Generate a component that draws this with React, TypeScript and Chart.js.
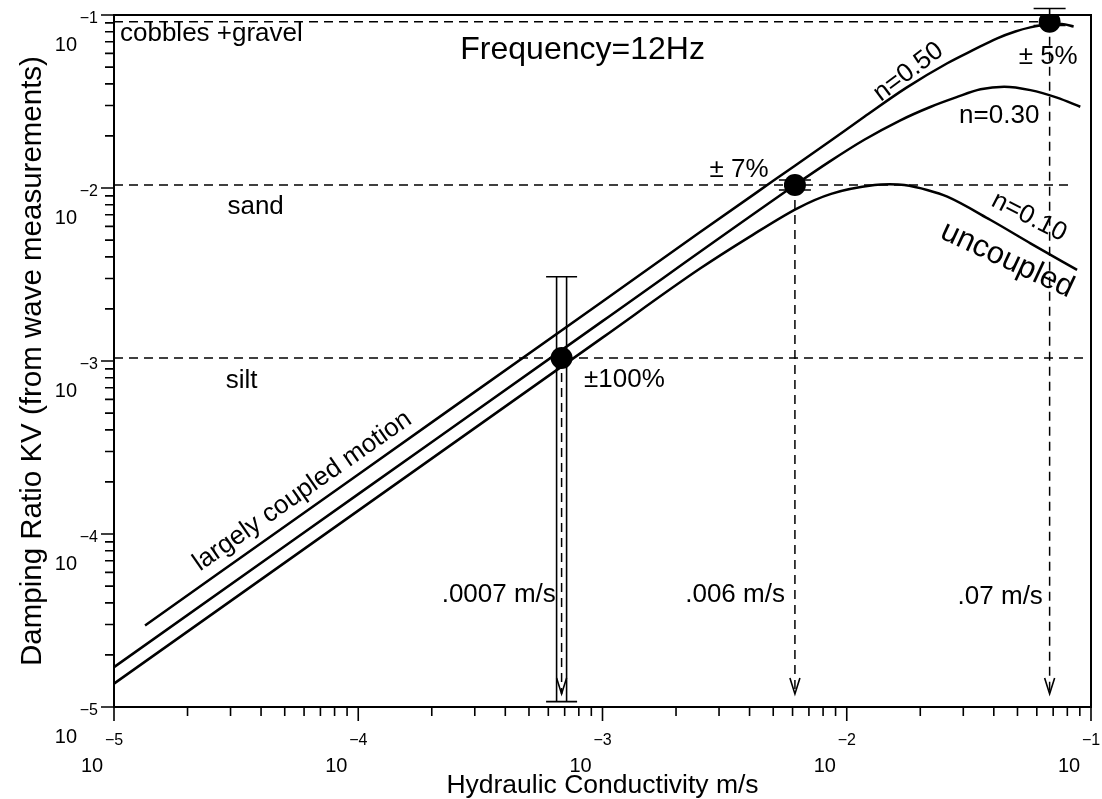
import React, { useEffect, useRef } from "react";
import { Chart, registerables } from "chart.js";

Chart.register(...registerables);

// ---- axis ranges (hydraulic conductivity K in m/s, damping ratio D) ----
const X_MIN = 1e-5;
const X_MAX = 1e-1;
const Y_MIN = 1e-5;
const Y_MAX = 1e-1;
const DECADE_EXPONENTS = [-5, -4, -3, -2, -1];
const DECADE_LABELS = ["\u22125", "\u22124", "\u22123", "\u22122", "\u22121"];
const MINOR_MULTIPLES = [2, 3, 4, 5, 6, 7, 8, 9];

// ---- model curves ----
const K_N050 = [1.34e-5, 1e-4, 1e-3, 2.47e-3, 5.0e-3, 8.5e-3, 0.0118, 0.0175, 0.0258, 0.033, 0.0413, 0.049, 0.0564, 0.0661, 0.076, 0.0849];
const D_N050 = [2.96e-5, 2.21e-4, 2.21e-3, 5.47e-3, 0.011, 0.01858, 0.0258, 0.0379, 0.0526, 0.0628, 0.0733, 0.0803, 0.0848, 0.0882, 0.0887, 0.0858];

const K_N030 = [1e-5, 1e-4, 1e-3, 6.14e-3, 8.5e-3, 0.0118, 0.0165, 0.0221, 0.028, 0.0353, 0.0441, 0.0565, 0.0726, 0.0904];
const D_N030 = [1.7e-5, 1.7e-4, 1.7e-3, 0.0104, 0.0142, 0.019, 0.02455, 0.0295, 0.0334, 0.0372, 0.0385, 0.0368, 0.0333, 0.0295];

const K_N010 = [1e-5, 1e-4, 1e-3, 2.5e-3, 3.94e-3, 6.31e-3, 8.63e-3, 0.013, 0.015, 0.0172, 0.0215, 0.0258, 0.0388, 0.0565, 0.0877];
const D_N010 = [1.365e-5, 1.365e-4, 1.365e-3, 3.41e-3, 5.15e-3, 7.66e-3, 9.25e-3, 0.0104, 0.0105, 0.0104, 9.71e-3, 8.91e-3, 6.53e-3, 4.79e-3, 3.36e-3];

// ---- measurements (dots) with error bars ----
const MEAS_K = [6.8e-4, 6.135e-3, 0.0677];
const MEAS_D = [1.04e-3, 1.04e-2, 0.0915];
const MEAS_HI = [3.07e-3, 0.01112, 0.109];
const MEAS_LO = [1.074e-5, 0.00974, 0.087];
const ARROW_TIP_D = 1.19e-5;

// ---- soil class levels (dashed horizontal lines) ----
const LEVEL_D = [0.0915, 0.0104, 0.00104];
const LEVEL_END_K = [0.0677, 0.0821, 0.0963];

// ---- annotations ----
const NOTE_TEXT = [
  "cobbles +gravel",
  "Frequency=12Hz",
  "sand",
  "silt",
  "\u00b1100%",
  "\u00b1 7%",
  "\u00b1 5%",
  "n=0.50",
  "n=0.30",
  "n=0.10",
  "uncoupled",
  "largely coupled motion",
  ".0007 m/s",
  ".006 m/s",
  ".07 m/s",
];
const NOTE_K = [1.058e-5, 8.29e-4, 3.8e-5, 3.33e-5, 1.23e-3, 3.62e-3, 0.0668, 0.0179, 0.0421, 0.0558, 0.0454, 5.91e-5, 3.76e-4, 3.49e-3, 0.0425];
const NOTE_D = [0.0777, 0.0628, 7.77e-3, 7.66e-4, 7.77e-4, 0.0127, 0.0572, 0.0468, 0.0261, 6.8e-3, 3.84e-3, 1.77e-4, 4.44e-5, 4.44e-5, 4.33e-5];
const NOTE_SIZE = [26, 32, 26, 26, 26, 26, 26, 26, 26, 26, 31, 26, 26, 26, 26];
const NOTE_ANGLE = [0, 0, 0, 0, 0, 0, 0, -37, 0, 27, 25, -35, 0, 0, 0];
const NOTE_ALIGN = ["left", "center", "center", "center", "center", "center", "center", "center", "center", "center", "center", "center", "center", "center", "center"];

const X_TITLE = "Hydraulic Conductivity m/s";
const Y_TITLE = "Damping Ratio KV (from wave measurements)";

const FONT = '"Liberation Sans", Arial, Helvetica, sans-serif';

function pts(k: number[], d: number[]) {
  return k.map((x, i) => ({ x, y: d[i] }));
}

const decorPlugin = {
  id: "decor",
  beforeDatasetsDraw(chart: any) {
    const ctx = chart.ctx as CanvasRenderingContext2D;
    const xs = chart.scales.x;
    const ys = chart.scales.y;
    ctx.save();
    ctx.strokeStyle = "#000";
    ctx.lineWidth = 1.6;
    MEAS_K.forEach((k, i) => {
      const px = xs.getPixelForValue(k);
      const top = ys.getPixelForValue(MEAS_HI[i]);
      const bot = ys.getPixelForValue(MEAS_LO[i]);
      const capHalf = i === 0 ? 15.5 : 16;
      ctx.beginPath();
      ctx.moveTo(px - capHalf, top);
      ctx.lineTo(px + capHalf, top);
      ctx.moveTo(px - capHalf, bot);
      ctx.lineTo(px + capHalf, bot);
      if (i === 0) {
        ctx.moveTo(px - 5, top);
        ctx.lineTo(px - 5, bot);
        ctx.moveTo(px + 5, top);
        ctx.lineTo(px + 5, bot);
      } else {
        ctx.moveTo(px, top);
        ctx.lineTo(px, bot);
      }
      ctx.stroke();
      // arrow head at the end of the dashed drop line
      const tip = ys.getPixelForValue(ARROW_TIP_D);
      ctx.beginPath();
      ctx.moveTo(px - 5, tip - 16);
      ctx.lineTo(px, tip);
      ctx.lineTo(px + 5, tip - 16);
      ctx.stroke();
    });
    ctx.restore();
  },
  afterDraw(chart: any) {
    const ctx = chart.ctx as CanvasRenderingContext2D;
    const xs = chart.scales.x;
    const ys = chart.scales.y;
    const a = chart.chartArea;
    ctx.save();
    ctx.strokeStyle = "#000";
    ctx.fillStyle = "#000";
    // frame
    ctx.lineWidth = 2;
    ctx.strokeRect(a.left, a.top, a.right - a.left, a.bottom - a.top);
    // ticks
    ctx.lineWidth = 1.6;
    ctx.beginPath();
    DECADE_EXPONENTS.forEach((e) => {
      const base = Math.pow(10, e);
      const px = xs.getPixelForValue(base);
      const py = ys.getPixelForValue(base);
      ctx.moveTo(px, a.bottom);
      ctx.lineTo(px, a.bottom + 14);
      ctx.moveTo(a.left, py);
      ctx.lineTo(a.left - 13, py);
      if (base < X_MAX) {
        MINOR_MULTIPLES.forEach((m) => {
          const v = m * base;
          const mx = xs.getPixelForValue(v);
          const my = ys.getPixelForValue(v);
          ctx.moveTo(mx, a.bottom);
          ctx.lineTo(mx, a.bottom + 9);
          ctx.moveTo(a.left, my);
          ctx.lineTo(a.left - 9, my);
        });
      }
    });
    ctx.stroke();
    // tick labels
    ctx.textBaseline = "alphabetic";
    DECADE_EXPONENTS.forEach((e, i) => {
      const base = Math.pow(10, e);
      const px = xs.getPixelForValue(base);
      const py = ys.getPixelForValue(base);
      ctx.font = `16px ${FONT}`;
      ctx.textAlign = "center";
      ctx.fillText(DECADE_LABELS[i], px, a.bottom + 38);
      ctx.textAlign = "right";
      ctx.fillText(DECADE_LABELS[i], a.left - 16, py + 8);
      ctx.font = `20px ${FONT}`;
      ctx.textAlign = "center";
      ctx.fillText("10", px - 22, a.bottom + 65);
      ctx.textAlign = "right";
      ctx.fillText("10", a.left - 37, py + 36);
    });
    // axis titles
    ctx.font = `26.5px ${FONT}`;
    ctx.textAlign = "center";
    ctx.fillText(X_TITLE, (a.left + a.right) / 2, a.bottom + 86);
    ctx.save();
    ctx.translate(41, (a.top + a.bottom) / 2);
    ctx.rotate(-Math.PI / 2);
    ctx.font = `29.5px ${FONT}`;
    ctx.fillText(Y_TITLE, 0, 0);
    ctx.restore();
    // annotations
    NOTE_TEXT.forEach((t, i) => {
      const x = xs.getPixelForValue(NOTE_K[i]);
      const y = ys.getPixelForValue(NOTE_D[i]);
      ctx.save();
      ctx.translate(x, y);
      ctx.rotate((NOTE_ANGLE[i] * Math.PI) / 180);
      ctx.font = `${NOTE_SIZE[i]}px ${FONT}`;
      ctx.textAlign = NOTE_ALIGN[i] as CanvasTextAlign;
      ctx.textBaseline = "middle";
      ctx.fillText(t, 0, 0);
      ctx.restore();
    });
    ctx.restore();
  },
};

export default function App() {
  const ref = useRef<HTMLCanvasElement>(null);
  useEffect(() => {
    const canvas = ref.current;
    if (!canvas) return;
    const curve = (k: number[], d: number[]) => ({
      data: pts(k, d),
      borderColor: "#000",
      borderWidth: 2.5,
      pointRadius: 0,
      cubicInterpolationMode: "monotone" as const,
      fill: false,
      order: 2,
    });
    const dashed = (data: { x: number; y: number }[]) => ({
      data,
      borderColor: "#000",
      borderWidth: 1.5,
      borderDash: [9, 6],
      pointRadius: 0,
      fill: false,
      order: 3,
    });
    const datasets: any[] = [
      curve(K_N050, D_N050),
      curve(K_N030, D_N030),
      curve(K_N010, D_N010),
      ...LEVEL_D.map((d, i) => dashed([{ x: X_MIN, y: d }, { x: LEVEL_END_K[i], y: d }])),
      ...MEAS_K.map((k, i) => dashed([{ x: k, y: MEAS_D[i] }, { x: k, y: ARROW_TIP_D }])),
      {
        data: pts(MEAS_K, MEAS_D),
        showLine: false,
        pointRadius: 11,
        pointBackgroundColor: "#000",
        pointBorderColor: "#000",
        pointBorderWidth: 0,
        order: 0,
      },
    ];
    const chart = new Chart(canvas, {
      type: "line",
      data: { datasets },
      options: {
        animation: false,
        responsive: false,
        maintainAspectRatio: false,
        events: [],
        layout: { padding: { left: 114, top: 15, right: 8, bottom: 92 } },
        scales: {
          x: { type: "logarithmic", min: X_MIN, max: X_MAX, display: false },
          y: { type: "logarithmic", min: Y_MIN, max: Y_MAX, display: false },
        },
        plugins: { legend: { display: false }, tooltip: { enabled: false } },
      },
      plugins: [decorPlugin],
    });
    return () => chart.destroy();
  }, []);
  return (
    <div style={{ position: "absolute", left: 0, top: 0, width: 1102, height: 799, background: "#fff" }}>
      <canvas ref={ref} width={1102} height={799} style={{ display: "block", width: 1102, height: 799 }} />
    </div>
  );
}
